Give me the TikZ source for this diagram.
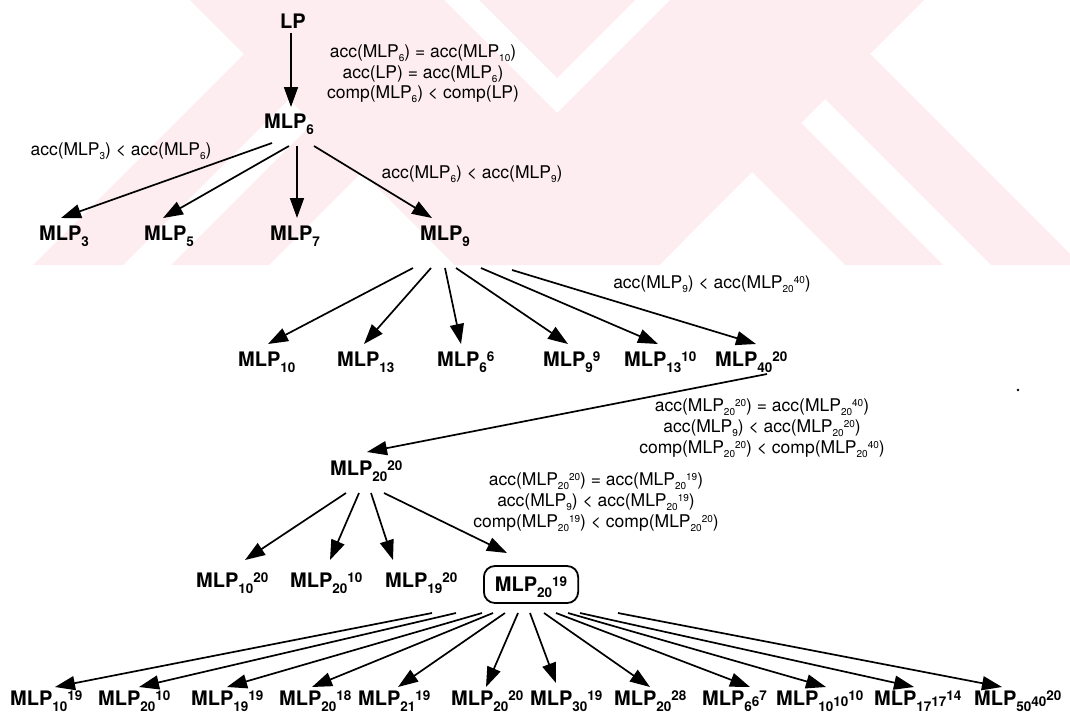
\documentclass[tikz,border=0pt]{standalone}
\usepackage{fontspec}
\setmainfont{TeX Gyre Heros}
\usetikzlibrary{arrows.meta,calc}
\definecolor{wmpink}{RGB}{253,236,240}
% fonts: bold model names, regular condition labels
\newcommand{\nfont}{\bfseries\fontsize{20}{24}\selectfont}
\newcommand{\lfont}{\fontsize{17.5}{21}\selectfont}
% staggered indices of the bold model names
\newcommand{\nsub}[1]{\raisebox{-6pt}{\fontsize{13.5}{14}\selectfont #1}}
\newcommand{\nmid}[1]{\raisebox{-1.5pt}{\fontsize{13.5}{14}\selectfont #1}}
\newcommand{\nsup}[1]{\raisebox{5pt}{\fontsize{13.5}{14}\selectfont #1}}
% indices inside the condition labels
\newcommand{\lsub}[1]{\raisebox{-4pt}{\fontsize{10}{11}\selectfont #1}}
\newcommand{\lsup}[1]{\raisebox{5pt}{\fontsize{10}{11}\selectfont #1}}
\begin{document}
\begin{tikzpicture}[x=1pt,y=-1pt,
  nd/.style={font=\nfont, inner sep=0pt, anchor=base west},
  lb/.style={font=\lfont, inner sep=0pt, anchor=base},
  arr/.style={line width=1.7pt, -{Triangle[length=20pt,width=14pt]}},
  chosen/.style={draw, line width=1.8pt, rounded corners=11pt, font=\nfont,
    inner xsep=11pt, inner ysep=8pt, text height=17pt, text depth=4pt, anchor=base west}]
\useasboundingbox (0,0) rectangle (1070,716);

% background emblem: crossing bands with chevron legs, cut off at the bottom
\begin{scope}
\clip (0,0) rectangle (1070,265);
\fill[wmpink] (190,0) -- (444,0) -- (684,240) -- (659,265) -- (455,265) -- cycle;
\fill[wmpink] (670,0) -- (924,0) -- (659,265) -- (455,265) -- (430,240) -- cycle;
\fill[wmpink] (479,0) -- (635,0) -- (557,78) -- cycle;
\fill[wmpink] (752,172) -- (801,123) -- (943,265) -- (845,265) -- cycle;
\fill[wmpink] (825,99) -- (870,54) -- (1081,265) -- (991,265) -- cycle;
\fill[wmpink] (362,172) -- (313,123) -- (171,265) -- (269,265) -- cycle;
\fill[wmpink] (289,99) -- (244,54) -- (33,265) -- (123,265) -- cycle;
\end{scope}

% level 0 and 1
\node[nd] (lp) at (280,28) {LP};
\node[nd] (m6) at (264,128) {MLP\nsub{6}};
\node[lb] (c1a) at (423,57) {acc(MLP\lsub{6}) = acc(MLP\lsub{10})};
\node[lb] (c1b) at (423,78) {acc(LP) = acc(MLP\lsub{6})};
\node[lb] (c1c) at (423,98) {comp(MLP\lsub{6}) < comp(LP)};
\draw[arr] ($(lp.base west)+(11,5)$) -- ($(m6.base west)+(27,-21)$);

% level 2
\node[lb] (c2) at (121,155) {acc(MLP\lsub{3}) < acc(MLP\lsub{6})};
\node[lb] (c3) at (472,178) {acc(MLP\lsub{6}) < acc(MLP\lsub{9})};
\node[nd] (m3) at (39,240) {MLP\nsub{3}};
\node[nd] (m5) at (144,240) {MLP\nsub{5}};
\node[nd] (m7) at (270,240) {MLP\nsub{7}};
\node[nd] (m9) at (420,240) {MLP\nsub{9}};
\draw[arr] ($(m6.base west)+(8,15)$)  -- ($(m3.base west)+(22,-22)$);
\draw[arr] ($(m6.base west)+(25,18)$) -- ($(m5.base west)+(19,-22)$);
\draw[arr] ($(m6.base west)+(33,18)$) -- ($(m7.base west)+(27,-22)$);
\draw[arr] ($(m6.base west)+(50,18)$) -- ($(m9.base west)+(12,-22)$);

% level 3
\node[lb] (c4) at (712,288) {acc(MLP\lsub{9}) < acc(MLP\lsub{20}\lsup{40})};
\node[nd] (a1) at (238,366) {MLP\nsub{10}};
\node[nd] (a2) at (337,366) {MLP\nsub{13}};
\node[nd] (a3) at (437,366) {MLP\nsub{6}\nsup{6}};
\node[nd] (a4) at (543,366) {MLP\nsub{9}\nsup{9}};
\node[nd] (a5) at (624,366) {MLP\nsub{13}\nsup{10}};
\node[nd] (a6) at (715,366) {MLP\nsub{40}\nsup{20}};
\draw[arr] ($(m9.base west)+(-7,28)$) -- ($(a1.base west)+(30,-22)$);
\draw[arr] ($(m9.base west)+(11,28)$) -- ($(a2.base west)+(27,-22)$);
\draw[arr] ($(m9.base west)+(25,28)$) -- ($(a3.base west)+(24,-22)$);
\draw[arr] ($(m9.base west)+(36,28)$) -- ($(a4.base west)+(25,-22)$);
\draw[arr] ($(m9.base west)+(61,28)$) -- ($(a5.base west)+(34,-22)$);
\draw[arr] ($(m9.base west)+(92,30)$) -- ($(a6.base west)+(41,-22)$);
\fill (1018,390) circle (1.3);

% level 4
\node[lb] (c5a) at (762,411) {acc(MLP\lsub{20}\lsup{20}) = acc(MLP\lsub{20}\lsup{40})};
\node[lb] (c5b) at (762,432) {acc(MLP\lsub{9}) < acc(MLP\lsub{20}\lsup{20})};
\node[lb] (c5c) at (762,453) {comp(MLP\lsub{20}\lsup{20}) < comp(MLP\lsub{20}\lsup{40})};
\node[nd] (b0) at (330,475) {MLP\nsub{20}\nsup{20}};
\draw[arr] ($(a6.base west)+(52,8)$) -- ($(b0.base west)+(37,-23)$);

% level 5
\node[lb] (c6a) at (596,485) {acc(MLP\lsub{20}\lsup{20}) = acc(MLP\lsub{20}\lsup{19})};
\node[lb] (c6b) at (596,506) {acc(MLP\lsub{9}) < acc(MLP\lsub{20}\lsup{19})};
\node[lb] (c6c) at (596,527) {comp(MLP\lsub{20}\lsup{19}) < comp(MLP\lsub{20}\lsup{20})};
\node[nd] (b1) at (196,587) {MLP\nsub{10}\nsup{20}};
\node[nd] (b2) at (290,587) {MLP\nsub{20}\nsup{10}};
\node[nd] (b3) at (385,587) {MLP\nsub{19}\nsup{20}};
\node[chosen] (b4) at (483,591) {MLP\nsub{20}\nsup{19}};
\draw[arr] ($(b0.base west)+(16,18)$) -- ($(b1.base west)+(49,-27)$);
\draw[arr] ($(b0.base west)+(29,18)$) -- ($(b2.base west)+(40,-27)$);
\draw[arr] ($(b0.base west)+(41,18)$) -- ($(b3.base west)+(8,-27)$);
\draw[arr] ($(b0.base west)+(54,18)$) -- ($(b4.base west)+(24,-38)$);

% level 6
\node[nd] (d1)  at (10,705)  {MLP\nsub{10}\nsup{19}};
\node[nd] (d2)  at (98,705)  {MLP\nsub{20}\nsup{10}};
\node[nd] (d3)  at (191,705) {MLP\nsub{19}\nsup{19}};
\node[nd] (d4)  at (279,705) {MLP\nsub{20}\nsup{18}};
\node[nd] (d5)  at (358,705) {MLP\nsub{21}\nsup{19}};
\node[nd] (d6)  at (451,705) {MLP\nsub{20}\nsup{20}};
\node[nd] (d7)  at (530,705) {MLP\nsub{30}\nsup{19}};
\node[nd] (d8)  at (614,705) {MLP\nsub{20}\nsup{28}};
\node[nd] (d9)  at (702,705) {MLP\nsub{6}\nmid{6}\nsup{7}};
\node[nd] (d10) at (776,705) {MLP\nsub{10}\nmid{10}\nsup{10}};
\node[nd] (d11) at (874,705) {MLP\nsub{17}\nmid{17}\nsup{14}};
\node[nd] (d12) at (974,705) {MLP\nsub{50}\nmid{40}\nsup{20}};
\draw[arr] ($(b4.base west)+(-51,22)$) -- ($(d1.base west)+(45,-18)$);
\draw[arr] ($(b4.base west)+(-27,22)$) -- ($(d2.base west)+(41,-18)$);
\draw[arr] ($(b4.base west)+(-1,22)$)  -- ($(d3.base west)+(36,-18)$);
\draw[arr] ($(b4.base west)+(10,22)$)  -- ($(d4.base west)+(33,-18)$);
\draw[arr] ($(b4.base west)+(22,22)$)  -- ($(d5.base west)+(40,-18)$);
\draw[arr] ($(b4.base west)+(35,22)$)  -- ($(d6.base west)+(35,-18)$);
\draw[arr] ($(b4.base west)+(47,22)$)  -- ($(d7.base west)+(26,-22)$);
\draw[arr] ($(b4.base west)+(61,22)$)  -- ($(d8.base west)+(36,-18)$);
\draw[arr] ($(b4.base west)+(73,22)$)  -- ($(d9.base west)+(48,-18)$);
\draw[arr] ($(b4.base west)+(85,22)$)  -- ($(d10.base west)+(50,-18)$);
\draw[arr] ($(b4.base west)+(97,22)$)  -- ($(d11.base west)+(40,-18)$);
\draw[arr] ($(b4.base west)+(135,22)$) -- ($(d12.base west)+(28,-18)$);
\end{tikzpicture}
\end{document}
